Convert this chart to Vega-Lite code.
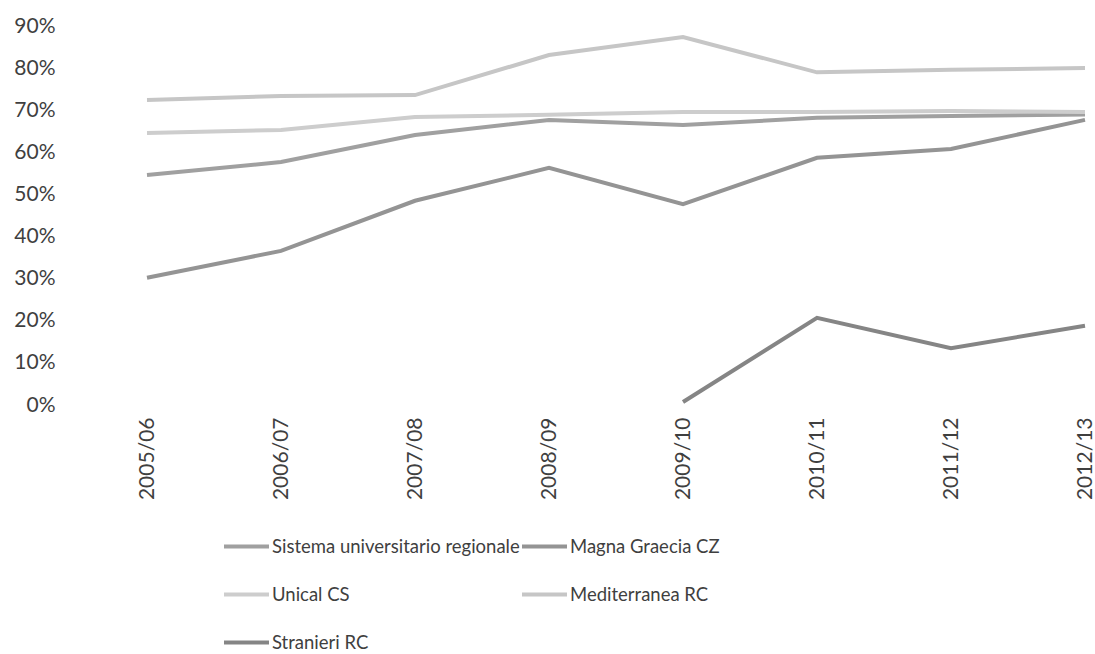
{
  "$schema": "https://vega.github.io/schema/vega-lite/v6.json",
  "width": 938,
  "height": 379,
  "autosize": {"type": "none"},
  "padding": {"left": 147, "top": 26, "right": 10, "bottom": 249},
  "background": "white",
  "config": {
    "view": {"stroke": null},
    "font": "Lato",
    "axis": {"labelFont": "Lato", "labelColor": "#3f3f3f", "grid": false, "domain": false, "ticks": false, "tickSize": 0, "title": null}
  },
  "data": {
    "values": [
      {"anno": "2005/06", "ateneo": "Sistema universitario regionale", "valore": 0.546},
      {"anno": "2006/07", "ateneo": "Sistema universitario regionale", "valore": 0.577},
      {"anno": "2007/08", "ateneo": "Sistema universitario regionale", "valore": 0.641},
      {"anno": "2008/09", "ateneo": "Sistema universitario regionale", "valore": 0.677},
      {"anno": "2009/10", "ateneo": "Sistema universitario regionale", "valore": 0.665},
      {"anno": "2010/11", "ateneo": "Sistema universitario regionale", "valore": 0.682},
      {"anno": "2011/12", "ateneo": "Sistema universitario regionale", "valore": 0.686},
      {"anno": "2012/13", "ateneo": "Sistema universitario regionale", "valore": 0.69},
      {"anno": "2005/06", "ateneo": "Magna Graecia CZ", "valore": 0.302},
      {"anno": "2006/07", "ateneo": "Magna Graecia CZ", "valore": 0.366},
      {"anno": "2007/08", "ateneo": "Magna Graecia CZ", "valore": 0.485},
      {"anno": "2008/09", "ateneo": "Magna Graecia CZ", "valore": 0.563},
      {"anno": "2009/10", "ateneo": "Magna Graecia CZ", "valore": 0.477},
      {"anno": "2010/11", "ateneo": "Magna Graecia CZ", "valore": 0.587},
      {"anno": "2011/12", "ateneo": "Magna Graecia CZ", "valore": 0.608},
      {"anno": "2012/13", "ateneo": "Magna Graecia CZ", "valore": 0.677},
      {"anno": "2005/06", "ateneo": "Unical CS", "valore": 0.646},
      {"anno": "2006/07", "ateneo": "Unical CS", "valore": 0.653},
      {"anno": "2007/08", "ateneo": "Unical CS", "valore": 0.684},
      {"anno": "2008/09", "ateneo": "Unical CS", "valore": 0.689},
      {"anno": "2009/10", "ateneo": "Unical CS", "valore": 0.696},
      {"anno": "2010/11", "ateneo": "Unical CS", "valore": 0.696},
      {"anno": "2011/12", "ateneo": "Unical CS", "valore": 0.698},
      {"anno": "2012/13", "ateneo": "Unical CS", "valore": 0.696},
      {"anno": "2005/06", "ateneo": "Mediterranea RC", "valore": 0.724},
      {"anno": "2006/07", "ateneo": "Mediterranea RC", "valore": 0.734},
      {"anno": "2007/08", "ateneo": "Mediterranea RC", "valore": 0.736},
      {"anno": "2008/09", "ateneo": "Mediterranea RC", "valore": 0.831},
      {"anno": "2009/10", "ateneo": "Mediterranea RC", "valore": 0.874},
      {"anno": "2010/11", "ateneo": "Mediterranea RC", "valore": 0.79},
      {"anno": "2011/12", "ateneo": "Mediterranea RC", "valore": 0.796},
      {"anno": "2012/13", "ateneo": "Mediterranea RC", "valore": 0.8},
      {"anno": "2009/10", "ateneo": "Stranieri RC", "valore": 0.007},
      {"anno": "2010/11", "ateneo": "Stranieri RC", "valore": 0.207},
      {"anno": "2011/12", "ateneo": "Stranieri RC", "valore": 0.135},
      {"anno": "2012/13", "ateneo": "Stranieri RC", "valore": 0.188}
    ]
  },
  "mark": {"type": "line", "strokeWidth": 4},
  "encoding": {
    "x": {
      "field": "anno", "type": "ordinal",
      "scale": {"type": "point", "padding": 0},
      "axis": {"labelAngle": -90, "labelFontSize": 21, "labelPadding": 12, "labelBaseline": "middle", "labelAlign": "right"}
    },
    "y": {
      "field": "valore", "type": "quantitative",
      "scale": {"domain": [0, 0.9], "nice": false},
      "axis": {"format": ".0%", "values": [0, 0.1, 0.2, 0.3, 0.4, 0.5, 0.6, 0.7, 0.8, 0.9], "labelFontSize": 21, "labelPadding": 92}
    },
    "color": {
      "field": "ateneo", "type": "nominal",
      "scale": {
        "domain": ["Sistema universitario regionale", "Magna Graecia CZ", "Unical CS", "Mediterranea RC", "Stranieri RC"],
        "range": ["#a0a0a0", "#949494", "#cdcdcd", "#c6c6c6", "#858585"]
      },
      "legend": {
        "title": null,
        "orient": "none",
        "direction": "horizontal",
        "legendX": 75,
        "legendY": 496,
        "columns": 2,
        "symbolType": "stroke",
        "symbolSize": 2025,
        "symbolStrokeWidth": 4,
        "labelFont": "Lato",
        "labelFontSize": 18.5,
        "labelColor": "#3f3f3f",
        "labelOffset": 1,
        "rowPadding": 14,
        "columnPadding": -7,
        "labelLimit": 400
      }
    }
  }
}
